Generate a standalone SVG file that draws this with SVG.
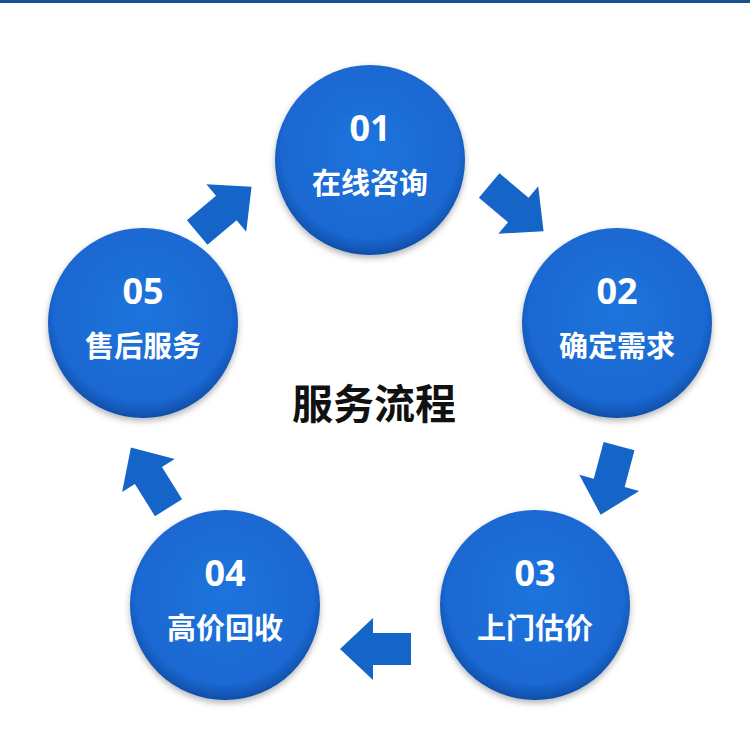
<svg xmlns="http://www.w3.org/2000/svg" width="750" height="748" viewBox="0 0 750 748">
<defs>
<radialGradient id="g" cx="0.5" cy="0.45" r="0.55">
<stop offset="0" stop-color="#1f74dc"/><stop offset="0.85" stop-color="#1a68d2"/><stop offset="1" stop-color="#0f4ea8"/>
</radialGradient>
<filter id="sh" x="-20%" y="-20%" width="140%" height="140%"><feDropShadow dx="0" dy="3" stdDeviation="3" flood-color="#000" flood-opacity="0.3"/></filter>
<path id="arr" d="M-35,-16 L3,-16 L3,-31 L36,0 L3,31 L3,16 L-35,16 Z" fill="#1565c8"/>
</defs>
<style>
.c{fill:url(#g);filter:url(#sh)}
.n{font-family:"Noto Sans","Noto Sans CJK SC",sans-serif;font-weight:bold;font-size:36px;fill:#fff;text-anchor:middle}
.t{font-family:"Noto Sans CJK SC",sans-serif;font-weight:bold;font-size:29px;fill:#fff;text-anchor:middle}
</style>
<rect width="750" height="748" fill="#fff"/>
<rect width="750" height="3" fill="#1b4f8f"/>
<g id="node01"><circle class="c" cx="370" cy="160" r="95"/><text class="n" x="370" y="141">01</text><text class="t" x="370" y="194">在线咨询</text></g>
<g id="node02"><circle class="c" cx="617" cy="323" r="95"/><text class="n" x="617" y="304">02</text><text class="t" x="617" y="357">确定需求</text></g>
<g id="node03"><circle class="c" cx="535" cy="605" r="95"/><text class="n" x="535" y="586">03</text><text class="t" x="535" y="639">上门估价</text></g>
<g id="node04"><circle class="c" cx="225" cy="605" r="95"/><text class="n" x="225" y="586">04</text><text class="t" x="225" y="639">高价回收</text></g>
<g id="node05"><circle class="c" cx="143" cy="323" r="95"/><text class="n" x="143" y="304">05</text><text class="t" x="143" y="357">售后服务</text></g>
<g id="connectors">
<use href="#arr" transform="translate(516,208) rotate(40)"/>
<use href="#arr" transform="translate(610,480) rotate(105)"/>
<use href="#arr" transform="translate(376,649) rotate(180)"/>
<use href="#arr" transform="translate(150,478) rotate(-122)"/>
<use href="#arr" transform="translate(224,210) rotate(-40)"/>
</g>
<text x="374" y="419" font-family="Noto Sans CJK SC,sans-serif" font-weight="bold" font-size="41" text-anchor="middle" fill="#111">服务流程</text>
</svg>
